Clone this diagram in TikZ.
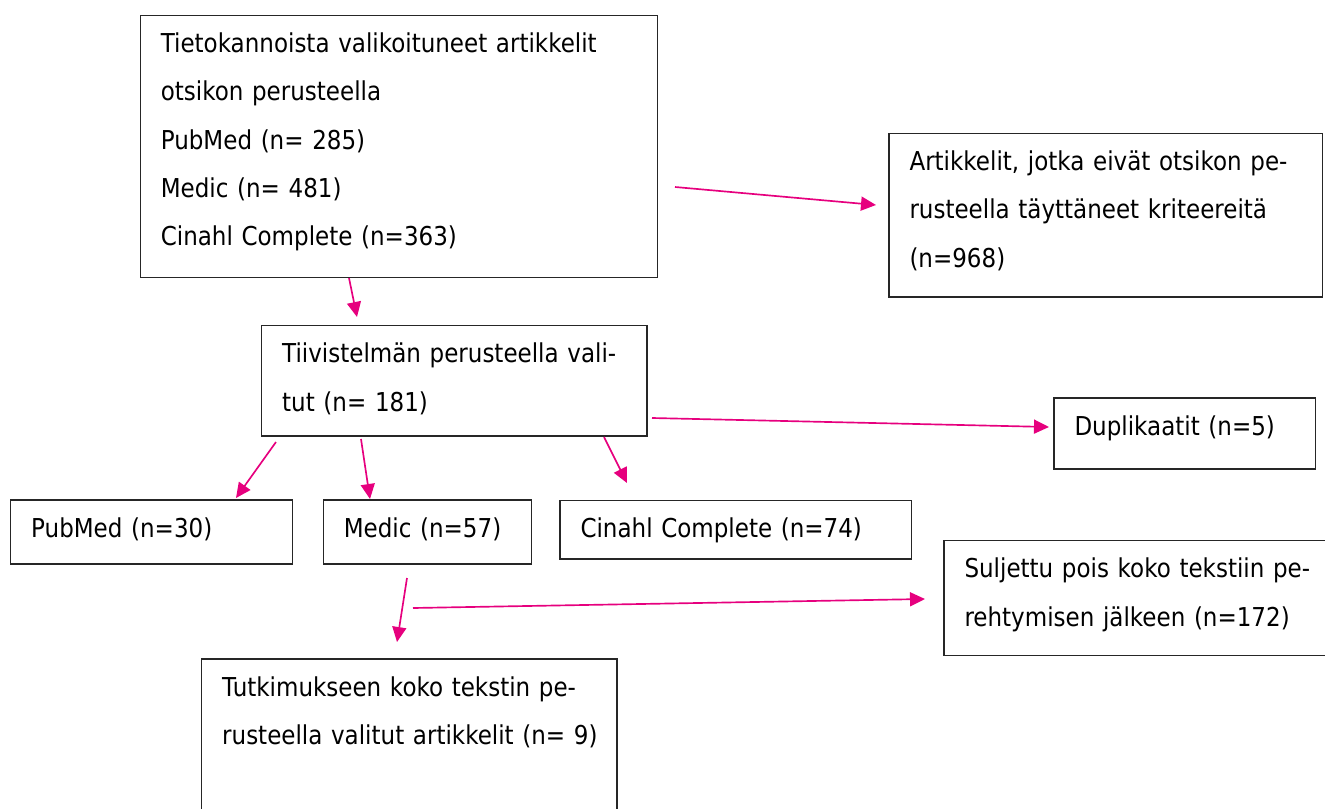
\documentclass[tikz,border=0pt]{standalone}
\usepackage{fontspec}
\setmainfont{DejaVu Sans}[FakeStretch=0.885]
\usetikzlibrary{arrows.meta}
\definecolor{pinkki}{RGB}{230,0,126}
\tikzset{
  laatikko/.style={draw=black!85, line width=0.8pt, anchor=north west, align=left,
    inner xsep=0.41cm, inner ysep=0pt, text height=0.74cm,
    font=\fontsize{14.8pt}{27.5pt}\selectfont},
  nuoli/.style={draw=pinkki, line width=0.95pt, -{Triangle[length=0.3cm,width=0.28cm]}}
}
\begin{document}
\begin{tikzpicture}[x=0.02cm,y=-0.02cm]
  \useasboundingbox (0,0) rectangle (1325,808);
  \node[laatikko, text width=9.52cm, text depth=4.5cm] (haku) at (139.6,14.7)
    {\mbox{Tietokannoista valikoituneet artikkelit}\\otsikon perusteella\\PubMed (n= 285)\\Medic (n= 481)\\Cinahl Complete (n=363)};
  \node[laatikko, text width=7.85cm, text depth=2.53cm] (hylatty) at (888.3,132.7)
    {\mbox{Artikkelit, jotka eivät otsikon pe-}\\\mbox{rusteella täyttäneet kriteereitä}\\(n=968)};
  \node[laatikko, text width=6.89cm, text depth=1.47cm] (tiivis) at (261,325)
    {\mbox{Tiivistelmän perusteella vali-}\\tut (n= 181)};
  \node[laatikko, text width=4.41cm, text depth=0.68cm] (dupl) at (1053.3,397.3)
    {Duplikaatit (n=5)};
  \node[laatikko, text width=4.82cm, text depth=0.54cm] (pubmed) at (10,499.3)
    {PubMed (n=30)};
  \node[laatikko, text width=3.34cm, text depth=0.54cm] (medic) at (322.6,499.3)
    {Medic (n=57)};
  \node[laatikko, text width=6.21cm, text depth=0.44cm] (cinahl) at (559.3,499.5)
    {Cinahl Complete (n=74)};
  \node[laatikko, text width=7.18cm, text depth=1.56cm] (suljettu) at (943.3,540)
    {\mbox{Suljettu pois koko tekstiin pe-}\\\mbox{rehtymisen jälkeen (n=172)}};
  \node[laatikko, text width=7.49cm, text depth=2.46cm] (valitut) at (201,658.3)
    {\mbox{Tutkimukseen koko tekstin pe-}\\\mbox{rusteella valitut artikkelit (n= 9)}};

  \coordinate (h1) at (675,187);
  \coordinate (h2) at (876,205);
  \coordinate (t1) at (349,278);
  \coordinate (t2) at (357,317);
  \coordinate (d1) at (652,418);
  \coordinate (d2) at (1049,427);
  \coordinate (p1) at (276,442);
  \coordinate (p2) at (236,498);
  \coordinate (m1) at (361,439);
  \coordinate (m2) at (370,499);
  \coordinate (c1) at (604,437);
  \coordinate (c2) at (627,483);
  \coordinate (v1) at (407,578);
  \coordinate (v2) at (397,642);
  \coordinate (s1) at (413,608);
  \coordinate (s2) at (925,599);
  \begin{scope}[nuoli]
    \draw (h1) to (h2);
    \draw (t1) to (t2);
    \draw (d1) to (d2);
    \draw (p1) to (p2);
    \draw (m1) to (m2);
    \draw (c1) to (c2);
    \draw (v1) to (v2);
    \draw (s1) to (s2);
  \end{scope}
\end{tikzpicture}
\end{document}
